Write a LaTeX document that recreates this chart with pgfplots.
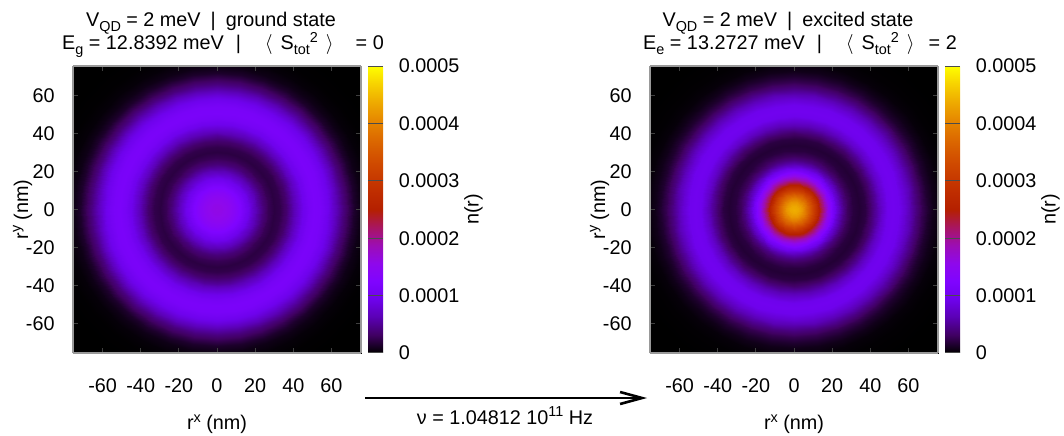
\documentclass[border=0pt]{standalone}
\usepackage{fontspec}
\setmainfont{Liberation Sans}
\usepackage{pgfplots}
\usepackage{pgfplotstable}
\pgfplotsset{compat=1.18}
\usetikzlibrary{arrows.meta}

\newcommand{\sub}[1]{\raisebox{-0.24em}{\fontsize{7.2}{8}\selectfont #1}}
\newcommand{\sups}[1]{\raisebox{0.38em}{\fontsize{7.2}{8}\selectfont #1}}

% radial density profiles n(r)
\pgfplotstableread{
r n
0   1.60e-4
3   1.58e-4
6   1.51e-4
9   1.39e-4
12  1.23e-4
15  1.03e-4
18  0.81e-4
21  0.59e-4
24  0.40e-4
27  0.27e-4
30  0.21e-4
33  0.24e-4
36  0.35e-4
39  0.53e-4
42  0.74e-4
45  0.94e-4
48  1.09e-4
51  1.16e-4
54  1.13e-4
57  1.01e-4
60  0.83e-4
63  0.62e-4
66  0.42e-4
69  0.26e-4
72  0.14e-4
75  0.07e-4
79  0.027e-4
84  0.008e-4
90  0.002e-4
96  0
108 0
}\gprof

\pgfplotstableread{
r n
0   4.40e-4
2   4.34e-4
4   4.17e-4
6   3.90e-4
8   3.55e-4
10  3.15e-4
12  2.73e-4
14  2.30e-4
16  1.90e-4
18  1.52e-4
20  1.17e-4
22  0.87e-4
24  0.62e-4
26  0.43e-4
28  0.30e-4
31  0.20e-4
34  0.17e-4
37  0.21e-4
40  0.34e-4
43  0.54e-4
46  0.76e-4
49  0.93e-4
52  0.99e-4
55  0.94e-4
58  0.80e-4
61  0.61e-4
64  0.42e-4
67  0.26e-4
70  0.15e-4
73  0.08e-4
77  0.03e-4
82  0.01e-4
90  0.002e-4
96  0
108 0
}\eprof

\pgfplotstablegetrowsof{\gprof}\edef\nG{\pgfplotsretval}
\pgfplotstablegetrowsof{\eprof}\edef\nE{\pgfplotsretval}

% the maps are round: repeat each profile once per angle (0,10,...,360)
\pgfplotstablenew[
  create on use/r/.style={create col/copy column from table={\gprof}{r}},
  create on use/n/.style={create col/copy column from table={\gprof}{n}},
  columns={r,n}]{\nG}\gpolar
\pgfplotstablenew[
  create on use/r/.style={create col/copy column from table={\eprof}{r}},
  create on use/n/.style={create col/copy column from table={\eprof}{n}},
  columns={r,n}]{\nE}\epolar
\pgfplotsforeachungrouped \i in {1,...,36}{%
  \pgfplotstablevertcat{\gpolar}{\gprof}%
  \pgfplotstablevertcat{\epolar}{\eprof}%
}

% gnuplot default palette (rgbformulae 7,5,15)
\pgfplotsset{
  colormap={gp}{
    rgb(0pt)=(0,0,0)         rgb(1pt)=(0.250,0.000,0.383)
    rgb(2pt)=(0.354,0.002,0.707) rgb(3pt)=(0.433,0.007,0.924)
    rgb(4pt)=(0.500,0.016,1.000) rgb(5pt)=(0.559,0.031,0.924)
    rgb(6pt)=(0.612,0.053,0.707) rgb(7pt)=(0.661,0.084,0.383)
    rgb(8pt)=(0.707,0.125,0)     rgb(9pt)=(0.750,0.178,0)
    rgb(10pt)=(0.791,0.244,0)    rgb(11pt)=(0.829,0.325,0)
    rgb(12pt)=(0.866,0.422,0)    rgb(13pt)=(0.901,0.536,0)
    rgb(14pt)=(0.935,0.670,0)    rgb(15pt)=(0.968,0.824,0)
    rgb(16pt)=(1,1,0)
  },
  dens/.style={
    view={0}{90},
    scale only axis,
    width=144pt, height=143.5pt,
    xmin=-75.5, xmax=75.5, ymin=-75.5, ymax=75.5, zmin=-1, zmax=1,
    colormap name=gp,
    point meta min=0, point meta max=0.0005,
    axis on top,
    axis line style={draw=black!40, line width=0.7pt},
    tick style={draw=black!75, line width=0.4pt},
    major tick length=2.5pt,
    tick align=inside,
    xtick={-60,-40,-20,0,20,40,60},
    ytick={-60,-40,-20,0,20,40,60},
    ztick=\empty,
    xticklabels={-60,-40,-20,0,20,40,60},
    yticklabels={-60,-40,-20,0,20,40,60},
    xticklabel style={anchor=base, yshift=-19.85pt},
    yticklabel style={anchor=east, inner sep=0pt, xshift=-9pt},
    xlabel={r\sups{x} (nm)},
    ylabel={r\sups{y} (nm)},
    every axis x label/.style={at={(axis description cs:0.5,-0.268)}, anchor=base},
    every axis y label/.style={at={(axis description cs:-0.175,0.5)}, rotate=90, anchor=center},
    colorbar,
    colorbar style={
      at={(parent axis.north east)}, anchor=north west, xshift=-5pt,
      scale only axis, width=7.5pt, height=143.5pt,
      ytick={0,0.0001,0.0002,0.0003,0.0004,0.0005},
      yticklabels={0,0.0001,0.0002,0.0003,0.0004,0.0005},
      scaled y ticks=false,
      ytick pos=right,
      tick align=inside,
      major tick length=7.5pt,
      ytick style={draw=black!70, line width=0.5pt},
      yticklabel style={anchor=west, inner sep=0pt, xshift=7.65pt},
      axis line style={draw=none},
      ylabel={n(r)},
      every axis y label/.style={at={(axis description cs:7.02,0.5)}, rotate=90, anchor=center},
    },
  },
}

\begin{document}
\fontsize{9.9}{11.9}\selectfont
\begin{tikzpicture}
\useasboundingbox (0,0) rectangle (532pt,217.5pt);

\begin{axis}[dens, at={(36.5pt,41pt)}, anchor=south west]
\addplot3[surf, shader=interp, point meta=explicit, mesh/cols=\nG]
  table[x=r, y=r, z=n,
        x expr={\thisrow{r}*cos(10*floor(\coordindex/\nG))},
        y expr={\thisrow{r}*sin(10*floor(\coordindex/\nG))},
        z expr=0, meta=n] {\gpolar};
\end{axis}

\begin{axis}[dens, at={(325pt,41pt)}, anchor=south west]
\addplot3[surf, shader=interp, point meta=explicit, mesh/cols=\nE]
  table[x=r, y=r, z=n,
        x expr={\thisrow{r}*cos(10*floor(\coordindex/\nE))},
        y expr={\thisrow{r}*sin(10*floor(\coordindex/\nE))},
        z expr=0, meta=n] {\epolar};
\end{axis}

\node[anchor=base, inner sep=0pt] at (105.5pt,204.3pt) {V\sub{QD} = 2 meV\hspace{5pt}|\hspace{5pt}ground state};
\node[anchor=base, inner sep=0pt] at (111.5pt,192.6pt) {E\sub{g} = 12.8392 meV\hspace{6pt}|\hspace{12pt}$\langle$\hspace{4pt}S\sub{tot}\sups{2}\hspace{4pt}$\rangle$\hspace{11pt}= 0};
\node[anchor=base, inner sep=0pt] at (394pt,204.3pt) {V\sub{QD} = 2 meV\hspace{5pt}|\hspace{5pt}excited state};
\node[anchor=base, inner sep=0pt] at (400pt,192.6pt) {E\sub{e} = 13.2727 meV\hspace{6pt}|\hspace{12pt}$\langle$\hspace{4pt}S\sub{tot}\sups{2}\hspace{4pt}$\rangle$\hspace{7pt}= 2};

\draw[line width=1.3pt, -{Straight Barb[length=11pt,width=6pt]}] (182.5pt,18.5pt) -- (323.5pt,18.5pt);
\node[anchor=base] at (252.5pt,5.5pt) {ν = 1.04812 10\sups{11} Hz};
\end{tikzpicture}
\end{document}
